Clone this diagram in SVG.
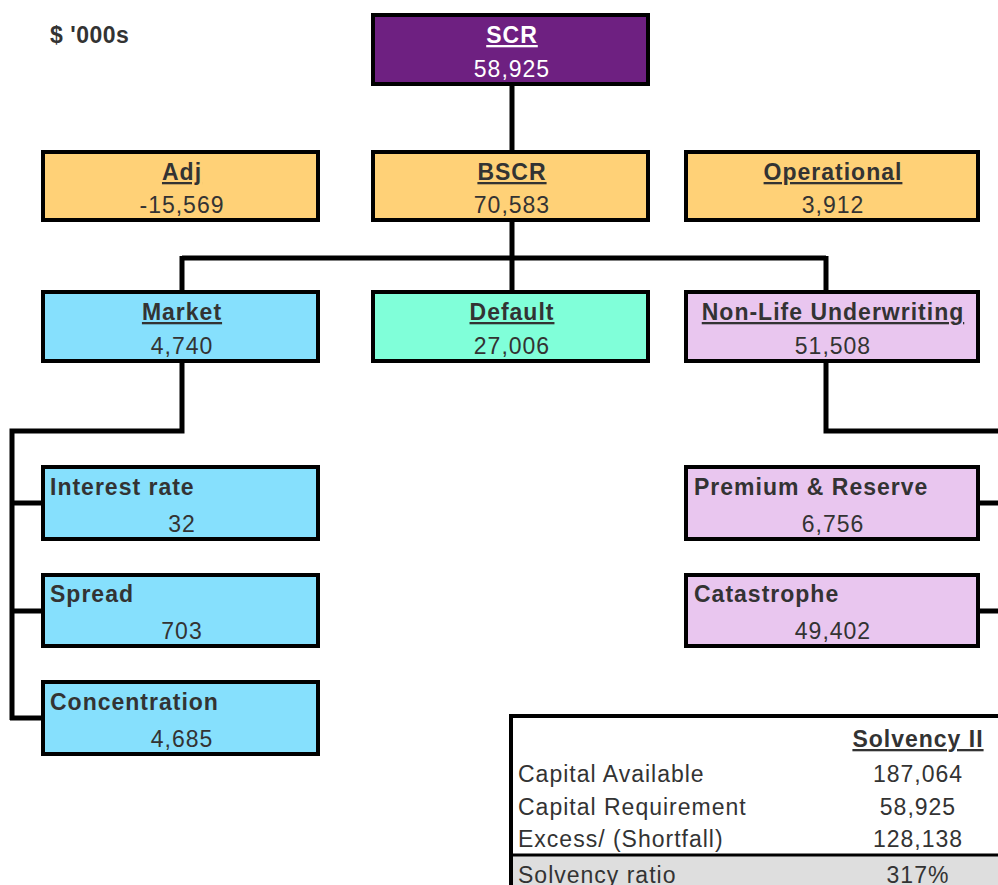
<svg xmlns="http://www.w3.org/2000/svg" width="998" height="885" viewBox="0 0 998 885">
<style>
.box{stroke:#000;stroke-width:4}
.scr{fill:#6e2081}
.yel{fill:#ffd177}
.blu{fill:#86e0fd}
.mint{fill:#80ffd9}
.lav{fill:#e9c6ef}
.t{font-family:"Liberation Sans",Arial,sans-serif;font-size:23px;fill:#333;letter-spacing:1px}
.b{font-weight:bold}
.u{text-decoration:underline}
.m{text-anchor:middle}
.w{fill:#fff}
.c{fill:none;stroke:#000;stroke-width:5}
</style>
<rect width="998" height="885" fill="#fff"/>
<text class="t b" x="50" y="43" style="letter-spacing:0.5px">$ '000s</text>
<g id="connectors">
<path class="c" d="M512 84V152"/>
<path class="c" d="M512 220V258M182 258H826M182 256V292M512 258V292M826 256V292"/>
<path class="c" d="M182 361V431H12V720M10 503H43M10 611H43M10 718H43"/>
<path class="c" d="M826 361V431H998M978 503H998M978 611H998"/>
</g>
<g id="scr"><rect class="box scr" x="373" y="15" width="275" height="69"/><text class="t b u m w" x="512" y="43">SCR</text><text class="t m w" x="512" y="77">58,925</text></g>
<g id="adj"><rect class="box yel" x="43" y="152" width="275" height="68"/><text class="t b u m" x="182" y="180">Adj</text><text class="t m" x="182" y="213">-15,569</text></g>
<g id="bscr"><rect class="box yel" x="373" y="152" width="275" height="68"/><text class="t b u m" x="512" y="180">BSCR</text><text class="t m" x="512" y="213">70,583</text></g>
<g id="operational"><rect class="box yel" x="686" y="152" width="292" height="68"/><text class="t b u m" x="833" y="180">Operational</text><text class="t m" x="833" y="213">3,912</text></g>
<g id="market"><rect class="box blu" x="43" y="292" width="275" height="69"/><text class="t b u m" x="182" y="320">Market</text><text class="t m" x="182" y="354">4,740</text></g>
<g id="default"><rect class="box mint" x="373" y="292" width="275" height="69"/><text class="t b u m" x="512" y="320">Default</text><text class="t m" x="512" y="354">27,006</text></g>
<g id="nonlife"><rect class="box lav" x="686" y="292" width="292" height="69"/><text class="t b u m" x="833" y="320">Non-Life Underwriting</text><text class="t m" x="833" y="354">51,508</text></g>
<g id="interest"><rect class="box blu" x="43" y="467" width="275" height="72"/><text class="t b" x="50" y="495">Interest rate</text><text class="t m" x="182" y="532">32</text></g>
<g id="spread"><rect class="box blu" x="43" y="575" width="275" height="71"/><text class="t b" x="50" y="602">Spread</text><text class="t m" x="182" y="639">703</text></g>
<g id="concentration"><rect class="box blu" x="43" y="682" width="275" height="72"/><text class="t b" x="50" y="710">Concentration</text><text class="t m" x="182" y="747">4,685</text></g>
<g id="premium"><rect class="box lav" x="686" y="467" width="292" height="72"/><text class="t b" x="694" y="495">Premium &amp; Reserve</text><text class="t m" x="833" y="532">6,756</text></g>
<g id="catastrophe"><rect class="box lav" x="686" y="575" width="292" height="71"/><text class="t b" x="694" y="602">Catastrophe</text><text class="t m" x="833" y="639">49,402</text></g>
<g id="table">
<rect x="511" y="716" width="500" height="180" fill="#fff" stroke="#000" stroke-width="4"/>
<rect x="513" y="856" width="490" height="30" fill="#dedede"/>
<path d="M511 855H1000" stroke="#000" stroke-width="3"/>
<path d="M511 714V885" stroke="#000" stroke-width="4"/>
<text class="t b u m" x="918" y="747">Solvency II</text>
<text class="t" x="518" y="782">Capital Available</text><text class="t m" x="918" y="782">187,064</text>
<text class="t" x="518" y="815">Capital Requirement</text><text class="t m" x="918" y="815">58,925</text>
<text class="t" x="518" y="847">Excess/ (Shortfall)</text><text class="t m" x="918" y="847">128,138</text>
<text class="t" x="518" y="883">Solvency ratio</text><text class="t m" x="918" y="883">317%</text>
</g>
</svg>
